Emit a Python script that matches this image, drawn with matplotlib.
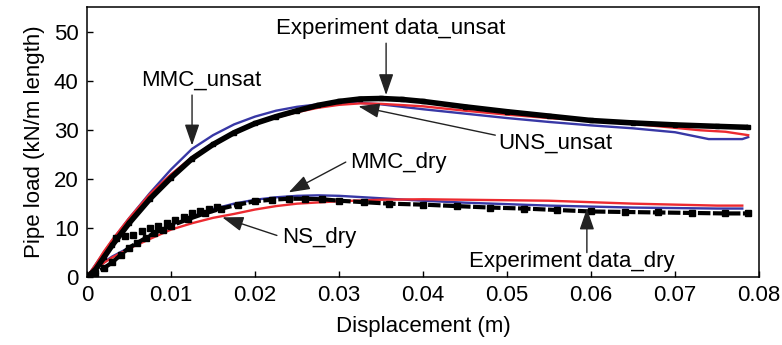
import matplotlib
matplotlib.use("Agg")
import matplotlib.pyplot as plt

plt.rcParams['font.family'] = ['Liberation Sans', 'DejaVu Sans']

# Unsaturated sand: measured load-displacement response
exp_unsat_x = [0, 0.001, 0.002, 0.003, 0.005, 0.0075, 0.01, 0.0125, 0.015, 0.0175, 0.02,
               0.0225, 0.025, 0.0275, 0.03, 0.0325, 0.035, 0.0375, 0.04, 0.045, 0.05,
               0.055, 0.06, 0.065, 0.07, 0.075, 0.0787]
exp_unsat_y = [0, 1.5, 4, 6.5, 11, 16, 20.3, 24.2, 27.1, 29.5, 31.4, 32.8, 34.0, 35.1,
               35.9, 36.4, 36.5, 36.3, 35.9, 34.8, 33.8, 32.9, 32.0, 31.5, 31.1, 30.8, 30.6]

# Unsaturated sand: MMC model
mmc_unsat_x = [0, 0.001, 0.002, 0.003, 0.005, 0.0075, 0.01, 0.0125, 0.015, 0.0175, 0.02,
               0.0225, 0.025, 0.0275, 0.03, 0.0325, 0.035, 0.04, 0.045, 0.05, 0.055,
               0.06, 0.065, 0.07, 0.072, 0.074, 0.078, 0.0787]
mmc_unsat_y = [0, 2.5, 5, 7.5, 12, 17.2, 22, 26.2, 29.0, 31.2, 32.8, 34.0, 34.8, 35.3,
               35.6, 35.6, 35.3, 34.3, 33.4, 32.5, 31.7, 31.0, 30.4, 29.6, 28.9, 28.2,
               28.2, 28.6]

# Unsaturated sand: UNS model
uns_unsat_x = [0, 0.001, 0.002, 0.003, 0.005, 0.0075, 0.01, 0.0125, 0.015, 0.0175, 0.02,
               0.0225, 0.025, 0.0275, 0.03, 0.0325, 0.035, 0.04, 0.045, 0.05, 0.055,
               0.06, 0.065, 0.07, 0.073, 0.076, 0.0787]
uns_unsat_y = [0, 2.5, 5.2, 7.6, 12.0, 17.0, 21.0, 24.5, 27.3, 29.6, 31.3, 32.6, 33.7,
               34.6, 35.2, 35.5, 35.4, 34.9, 34.0, 33.2, 32.5, 31.9, 31.3, 30.5, 30.0,
               29.7, 29.0]

# Dry sand: measured response (main branch and scattered upper readings)
exp_dry_x = [0, 0.001, 0.002, 0.003, 0.004, 0.005, 0.006, 0.007, 0.008, 0.009, 0.010,
             0.012, 0.014, 0.016, 0.018, 0.020, 0.022, 0.024, 0.026, 0.028, 0.030,
             0.033, 0.036, 0.040, 0.044, 0.048, 0.052, 0.056, 0.060, 0.064, 0.068,
             0.072, 0.076, 0.0787]
exp_dry_y = [0, 0.8, 1.8, 3.0, 4.5, 6.0, 7.0, 8.0, 9.0, 9.7, 10.5, 11.8, 13.0, 14.0,
             14.8, 15.5, 15.8, 16.0, 16.0, 15.9, 15.6, 15.3, 15.0, 14.8, 14.5, 14.2,
             14.0, 13.7, 13.4, 13.3, 13.2, 13.1, 13.0, 13.0]
exp_dry_scatter_x = [0.0035, 0.0045, 0.0055, 0.0065, 0.0075, 0.0085, 0.0095, 0.0105,
                     0.0115, 0.0125, 0.0135, 0.0145, 0.0155]
exp_dry_scatter_y = [8.0, 8.3, 8.6, 9.5, 10.0, 10.5, 11.0, 11.6, 12.3, 13.0, 13.5, 14.0, 14.4]

# Dry sand: MMC model
mmc_dry_x = [0, 0.001, 0.002, 0.003, 0.005, 0.0075, 0.01, 0.0125, 0.015, 0.0175, 0.02,
             0.0225, 0.025, 0.0275, 0.03, 0.035, 0.04, 0.045, 0.05, 0.055, 0.06, 0.065,
             0.07, 0.075, 0.078]
mmc_dry_y = [0, 1.5, 3.0, 4.2, 6.0, 8.4, 10.6, 12.4, 13.9, 15.0, 15.8, 16.3, 16.6, 16.7,
             16.6, 16.1, 15.6, 15.2, 14.9, 14.6, 14.4, 14.2, 14.1, 14.0, 14.0]

# Dry sand: NS model
ns_dry_x = [0, 0.001, 0.002, 0.003, 0.005, 0.0075, 0.01, 0.0125, 0.015, 0.0175, 0.02,
            0.0225, 0.025, 0.03, 0.035, 0.04, 0.045, 0.05, 0.055, 0.06, 0.065, 0.07,
            0.075, 0.078]
ns_dry_y = [0, 1.5, 2.9, 4.0, 5.8, 7.8, 9.7, 11.0, 12.1, 12.9, 13.8, 14.5, 15.0, 15.5,
            15.8, 15.9, 15.8, 15.7, 15.6, 15.3, 15.0, 14.8, 14.6, 14.6]

x_ticks = [0, 0.01, 0.02, 0.03, 0.04, 0.05, 0.06, 0.07, 0.08]
x_tick_labels = ['0', '0.01', '0.02', '0.03', '0.04', '0.05', '0.06', '0.07', '0.08']
y_ticks = [0, 10, 20, 30, 40, 50]

BLUE = '#3838a6'
RED = '#ec2a30'
FS = 16

fig = plt.figure(figsize=(7.82, 3.45), dpi=100)
ax = fig.add_axes([0.1113, 0.197, 0.8594, 0.7827])

# model curves
ax.plot(mmc_unsat_x, mmc_unsat_y, color=BLUE, lw=1.7, zorder=2)
ax.plot(uns_unsat_x, uns_unsat_y, color=RED, lw=1.7, zorder=2)
ax.plot(mmc_dry_x, mmc_dry_y, color=BLUE, lw=1.7, zorder=2)
ax.plot(ns_dry_x, ns_dry_y, color=RED, lw=1.7, zorder=2)

# measured data
ax.plot(exp_unsat_x, exp_unsat_y, color='black', lw=4.0, marker='s', ms=3.5,
        zorder=3, solid_capstyle='butt')
ax.plot(exp_dry_x, exp_dry_y, color='black', lw=0, marker='s', ms=4.5,
        zorder=3)
ax.plot(exp_dry_x, exp_dry_y, color='black', lw=3.0, ls=(0, (3, 0.6)), zorder=3)
ax.plot(exp_dry_scatter_x, exp_dry_scatter_y, color='black', lw=0, marker='s', ms=4,
        zorder=3)

ax.set_xlim(0, 0.08)
ax.set_ylim(0, 55.2)
ax.set_xticks(x_ticks)
ax.set_xticklabels(x_tick_labels)
ax.set_yticks(y_ticks)
ax.tick_params(direction='in', length=4, width=1, labelsize=FS, pad=6)
for s in ax.spines.values():
    s.set_linewidth(1.1)

ax.set_xlabel('Displacement (m)', fontsize=FS, labelpad=7)
ax.set_ylabel('Pipe load (kN/m length)', fontsize=FS, labelpad=6)

arrow = dict(arrowstyle='-|>,head_length=1.3,head_width=0.45', mutation_scale=10,
             color='#222222', lw=1.0, shrinkA=0, shrinkB=0)

ax.text(0.0361, 50.9, 'Experiment data_unsat', fontsize=FS, ha='center', va='center')
ax.annotate('', xy=(0.0356, 37.2), xytext=(0.0356, 47.8), arrowprops=arrow)

ax.text(0.0136, 40.2, 'MMC_unsat', fontsize=FS, ha='center', va='center')
ax.annotate('', xy=(0.0125, 26.9), xytext=(0.0125, 37.2), arrowprops=arrow)

ax.text(0.0557, 27.3, 'UNS_unsat', fontsize=FS, ha='center', va='center')
ax.annotate('', xy=(0.0323, 34.9), xytext=(0.0486, 29.0), arrowprops=arrow)

ax.text(0.0371, 23.5, 'MMC_dry', fontsize=FS, ha='center', va='center')
ax.annotate('', xy=(0.0240, 17.3), xytext=(0.0308, 23.5), arrowprops=arrow)

ax.text(0.0277, 8.1, 'NS_dry', fontsize=FS, ha='center', va='center')
ax.annotate('', xy=(0.0161, 12.2), xytext=(0.0226, 8.5), arrowprops=arrow)

ax.text(0.0577, 3.2, 'Experiment data_dry', fontsize=FS, ha='center', va='center')
ax.annotate('', xy=(0.0595, 14.0), xytext=(0.0595, 5.0), arrowprops=arrow)

fig.savefig('out.png', dpi=100)
